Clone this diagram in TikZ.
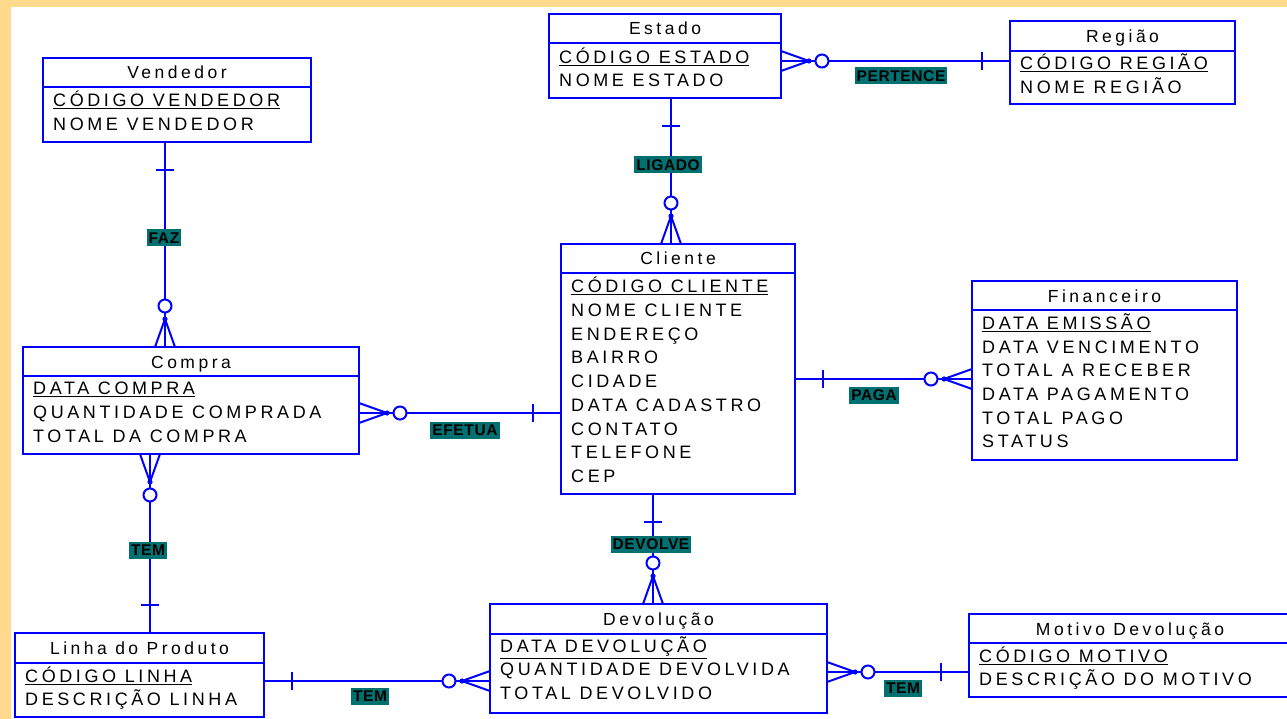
\documentclass[tikz,border=0pt]{standalone}
\usepackage{fontspec}
\setmainfont{Liberation Sans}[LetterSpace=20]
\newfontfamily\relfont{Liberation Sans}[LetterSpace=4]
\definecolor{bgyel}{RGB}{255,218,140}
\definecolor{relteal}{RGB}{0,112,112}
\definecolor{erblue}{RGB}{0,0,255}
\newcommand{\erent}[7]{%
  \node[entbox, anchor=north west, minimum width={(#4)-(#2)}, minimum height={(#5)-(#3)}] (#1) at (#2,#3) {};
  \draw[rel] (#1.west |- 0,#6) -- (#1.east |- 0,#6);
  \node[ttl] (#1-t) at ({(#2+#4)/2},{(#3+#6)/2+6.5}) {#7};
}
\newcommand{\erattr}[4]{\node[attr] (#1) at (#2,#3+6.5) {#4};}
\tikzset{
  entbox/.style={draw=erblue, line width=2pt, inner sep=0pt, outer sep=0pt, fill=white},
  rel/.style={draw=erblue, line width=2pt},
  ttl/.style={anchor=base, inner sep=0pt, font=\fontsize{17.5}{18}\selectfont},
  attr/.style={anchor=base west, inner sep=0pt, font=\fontsize{18}{20}\selectfont},
  rellbl/.style={fill=relteal, text=black, inner xsep=2pt, inner ysep=3pt, text height=11pt, text depth=0pt, font=\relfont\bfseries\fontsize{15.5}{16}\selectfont},
  crow/.pic={\draw[rel] (0,-10) -- (28,0) -- (0,10);
             \fill[erblue] (28,0) circle[radius=2.6pt];
             \draw[rel, fill=white] (41,0) circle[radius=6.5pt];},
  onetick/.pic={\draw[rel] (28,-9) -- (28,9);}
}
\begin{document}
\begin{tikzpicture}[x=1pt,y=-1pt]
\useasboundingbox (0,0) rectangle (1287,719);
\fill[bgyel] (0,0) rectangle (1287,719);
\fill[white] (10.5,7) rectangle (1287,719);

% entities
\erent{ven}{43}{58}{311}{142}{87}{Vendedor}
\erattr{ven-a1}{53}{100}{\underline{CÓDIGO VENDEDOR}}
\erattr{ven-a2}{53}{124}{NOME VENDEDOR}

\erent{est}{549}{14}{781}{98}{43}{Estado}
\erattr{est-a1}{559}{57}{\underline{CÓDIGO ESTADO}}
\erattr{est-a2}{559}{80}{NOME ESTADO}

\erent{reg}{1010}{21}{1235}{104}{51}{Região}
\erattr{reg-a1}{1020}{63}{\underline{CÓDIGO REGIÃO}}
\erattr{reg-a2}{1020}{87}{NOME REGIÃO}

\erent{cli}{561}{244}{795}{494}{273}{Cliente}
\erattr{cli-a1}{571}{286}{\underline{CÓDIGO CLIENTE}}
\erattr{cli-a2}{571}{310}{NOME CLIENTE}
\erattr{cli-a3}{571}{334}{ENDEREÇO}
\erattr{cli-a4}{571}{357}{BAIRRO}
\erattr{cli-a5}{571}{381}{CIDADE}
\erattr{cli-a6}{571}{405}{DATA CADASTRO}
\erattr{cli-a7}{571}{429}{CONTATO}
\erattr{cli-a8}{571}{452}{TELEFONE}
\erattr{cli-a9}{571}{476}{CEP}

\erent{fin}{972}{281}{1237}{460}{310}{Financeiro}
\erattr{fin-a1}{982}{323}{\underline{DATA EMISSÃO}}
\erattr{fin-a2}{982}{347}{DATA VENCIMENTO}
\erattr{fin-a3}{982}{370}{TOTAL A RECEBER}
\erattr{fin-a4}{982}{394}{DATA PAGAMENTO}
\erattr{fin-a5}{982}{418}{TOTAL PAGO}
\erattr{fin-a6}{982}{441}{STATUS}

\erent{com}{23}{347}{359}{454}{376}{Compra}
\erattr{com-a1}{33}{388}{\underline{DATA COMPRA}}
\erattr{com-a2}{33}{412}{QUANTIDADE COMPRADA}
\erattr{com-a3}{33}{436}{TOTAL DA COMPRA}

\erent{lin}{15}{633}{264}{717}{663}{Linha do Produto}
\erattr{lin-a1}{25}{676}{\underline{CÓDIGO LINHA}}
\erattr{lin-a2}{25}{699}{DESCRIÇÃO LINHA}

\erent{dev}{490}{604}{827}{713}{634}{Devolução}
\erattr{dev-a1}{500}{646}{\underline{DATA DEVOLUÇÃO}}
\erattr{dev-a2}{500}{669}{QUANTIDADE DEVOLVIDA}
\erattr{dev-a3}{500}{693}{TOTAL DEVOLVIDO}

\erent{mot}{969}{614}{1291}{697}{643}{Motivo Devolução}
\erattr{mot-a1}{979}{656}{\underline{CÓDIGO MOTIVO}}
\erattr{mot-a2}{979}{679}{DESCRIÇÃO DO MOTIVO}

% connectors
\draw[rel] (ven.south -| 165,0) -- (com.north -| 165,0);
\pic[rotate=-90] at (ven.south -| 165,0) {onetick};
\pic[rotate=90] at (com.north -| 165,0) {crow};

\draw[rel] (est.south -| 671,0) -- (cli.north -| 671,0);
\pic[rotate=-90] at (est.south -| 671,0) {onetick};
\pic[rotate=90] at (cli.north -| 671,0) {crow};

\draw[rel] (est.east |- 0,61) -- (reg.west |- 0,61);
\pic at (est.east |- 0,61) {crow};
\pic[rotate=180] at (reg.west |- 0,61) {onetick};

\draw[rel] (com.east |- 0,413) -- (cli.west |- 0,413);
\pic at (com.east |- 0,413) {crow};
\pic[rotate=180] at (cli.west |- 0,413) {onetick};

\draw[rel] (cli.east |- 0,379) -- (fin.west |- 0,379);
\pic at (cli.east |- 0,379) {onetick};
\pic[rotate=180] at (fin.west |- 0,379) {crow};

\draw[rel] (com.south -| 150,0) -- (lin.north -| 150,0);
\pic[rotate=-90] at (com.south -| 150,0) {crow};
\pic[rotate=90] at (lin.north -| 150,0) {onetick};

\draw[rel] (cli.south -| 653,0) -- (dev.north -| 653,0);
\pic[rotate=-90] at (cli.south -| 653,0) {onetick};
\pic[rotate=90] at (dev.north -| 653,0) {crow};

\draw[rel] (lin.east |- 0,681) -- (dev.west |- 0,681);
\pic at (lin.east |- 0,681) {onetick};
\pic[rotate=180] at (dev.west |- 0,681) {crow};

\draw[rel] (dev.east |- 0,672) -- (mot.west |- 0,672);
\pic at (dev.east |- 0,672) {crow};
\pic[rotate=180] at (mot.west |- 0,672) {onetick};

% relationship labels
\node[rellbl] (l-faz) at (164,238) {FAZ};
\node[rellbl] (l-lig) at (668,165) {LIGADO};
\node[rellbl] (l-per) at (901,76) {PERTENCE};
\node[rellbl] (l-efe) at (465,430) {EFETUA};
\node[rellbl] (l-pag) at (874,395) {PAGA};
\node[rellbl] (l-tem1) at (148,550) {TEM};
\node[rellbl] (l-dev) at (651,544) {DEVOLVE};
\node[rellbl] (l-tem2) at (370,696) {TEM};
\node[rellbl] (l-tem3) at (903,688) {TEM};
\end{tikzpicture}
\end{document}
